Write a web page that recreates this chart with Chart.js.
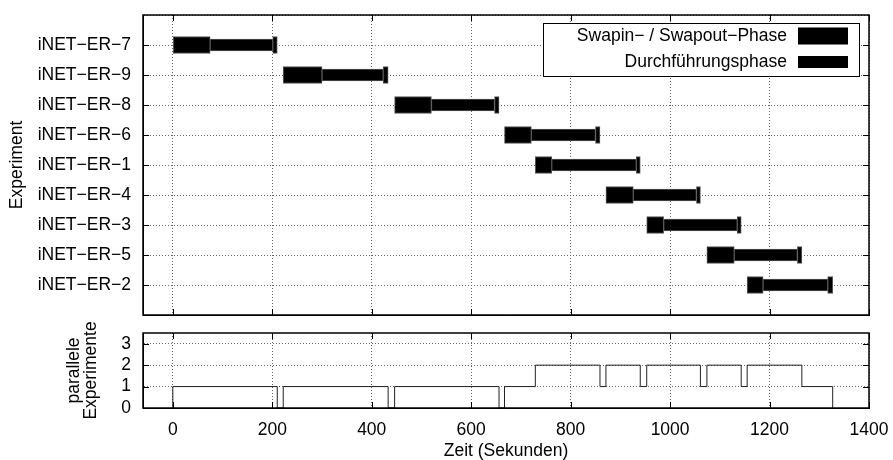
<!DOCTYPE html>
<html>
<head>
<meta charset="utf-8">
<script src="https://cdn.jsdelivr.net/npm/chart.js@4"></script>
<style>
  body { margin: 0; background: #fff; }
  #wrap { position: relative; width: 893px; height: 460px; }
  canvas { position: absolute; left: 0; }
  #top { top: 0; }
  #bottom { top: 320px; }
</style>
</head>
<body>
<div id="wrap">
  <canvas id="top" width="893" height="325"></canvas>
  <canvas id="bottom" width="893" height="140"></canvas>
</div>
<script>
// Experimente (von oben nach unten)
const categories = ['iNET−ER−7', 'iNET−ER−9', 'iNET−ER−8', 'iNET−ER−6', 'iNET−ER−1',
                    'iNET−ER−4', 'iNET−ER−3', 'iNET−ER−5', 'iNET−ER−2'];
// Zeitpunkte in Sekunden
const swapinStart  = [0, 222, 446, 667, 729, 871, 953, 1074, 1155];
const execStart    = [75, 300, 520, 721, 762, 926, 987, 1129, 1187];
const swapoutStart = [201, 423, 647, 850, 932, 1053, 1135, 1256, 1317];
const swapoutEnd   = [210, 433, 656, 859, 940, 1061, 1143, 1265, 1327];

// parallele Experimente (Treppenfunktion)
const stepTimes  = [0, 0, 210, 222, 433, 446, 656, 667, 729, 859, 871, 940, 953, 1061, 1074, 1143, 1155, 1265, 1327];
const stepCounts = [0, 1, 0, 1, 0, 1, 0, 1, 2, 1, 2, 1, 2, 1, 2, 1, 2, 1, 0];

const xTicks = [0, 200, 400, 600, 800, 1000, 1200, 1400];
const countTicks = [0, 1, 2, 3];

Chart.defaults.font.family = "'Liberation Sans', Arial, sans-serif";
Chart.defaults.font.size = 17.5;
Chart.defaults.color = '#000';

// Abstand Beschriftung <-> Achse ueber unsichtbare Tickmarken
const gridStyle = { color: '#666', lineWidth: 1, drawTicks: true, tickLength: 12, tickColor: 'rgba(0,0,0,0)' };
const dotted = { dash: [1, 2], color: '#000', width: 1 };
const tickFont = { size: 17.5, lineHeight: 1 };

// Rahmen + nach innen zeigende Ticks
const frame = {
  id: 'frame',
  afterDraw(chart) {
    const ctx = chart.ctx, a = chart.chartArea;
    const x = chart.scales.x, y = chart.scales.y;
    ctx.save();
    ctx.strokeStyle = '#000';
    ctx.lineWidth = 1;
    ctx.beginPath();
    x.ticks.forEach(t => {
      const px = Math.round(x.getPixelForValue(t.value)) + 0.5;
      ctx.moveTo(px, a.bottom); ctx.lineTo(px, a.bottom - 6);
      ctx.moveTo(px, a.top); ctx.lineTo(px, a.top + 6);
    });
    y.ticks.forEach(t => {
      if (t.label === '') return;
      const py = Math.round(y.getPixelForValue(t.value)) + 0.5;
      ctx.moveTo(a.left, py); ctx.lineTo(a.left + 6, py);
      ctx.moveTo(a.right, py); ctx.lineTo(a.right - 6, py);
    });
    ctx.stroke();
    ctx.lineWidth = 1.5;
    ctx.strokeRect(a.left, a.top, a.right - a.left, a.bottom - a.top);
    ctx.restore();
  }
};

// Legende innerhalb der Zeichenflaeche
const legendBox = {
  id: 'legendBox',
  afterDraw(chart) {
    const ctx = chart.ctx, a = chart.chartArea;
    const items = chart.data.datasets.filter(d => !d.hideInLegend);
    const right = a.right - 10, top = a.top + 8, w = 316, h = 53;
    ctx.save();
    ctx.fillStyle = '#fff';
    ctx.fillRect(right - w, top, w, h);
    ctx.strokeStyle = '#000';
    ctx.lineWidth = 1;
    ctx.strokeRect(right - w + 0.5, top + 0.5, w, h);
    ctx.font = "17.5px 'Liberation Sans', Arial, sans-serif";
    ctx.textAlign = 'right';
    ctx.textBaseline = 'middle';
    items.forEach((d, i) => {
      const cy = top + 13 + i * 26;
      ctx.fillStyle = '#000';
      ctx.fillText(d.label, right - 72, cy);
      ctx.fillStyle = d.backgroundColor;
      ctx.fillRect(right - 61, cy - d.barThickness / 2, 50, d.barThickness);
    });
    ctx.restore();
  }
};

const rows = (from, to) => categories.map((c, i) => ({ y: c, x: [from[i], to[i]] }));

new Chart(document.getElementById('top'), {
  type: 'bar',
  data: {
    labels: [''].concat(categories, ['']),
    datasets: [
      { label: 'Swapin− / Swapout−Phase', data: rows(swapinStart, execStart),
        backgroundColor: '#000', borderColor: '#555', borderWidth: 1, borderSkipped: false,
        barThickness: 17, grouped: false },
      { label: 'Durchführungsphase', data: rows(execStart, swapoutStart),
        backgroundColor: '#000', borderColor: '#555', borderWidth: 1, borderSkipped: false,
        barThickness: 12, grouped: false },
      { label: 'Swapin− / Swapout−Phase', hideInLegend: true, data: rows(swapoutStart, swapoutEnd),
        backgroundColor: '#000', borderColor: '#555', borderWidth: 1, borderSkipped: false,
        barThickness: 17, grouped: false }
    ]
  },
  options: {
    indexAxis: 'y',
    responsive: false,
    animation: false,
    layout: { padding: { top: 15, right: 24, bottom: 10, left: 0 } },
    plugins: { legend: { display: false }, tooltip: { enabled: false } },
    scales: {
      x: {
        type: 'linear', min: -60, max: 1400,
        afterBuildTicks: s => { s.ticks = xTicks.map(v => ({ value: v })); },
        afterFit: s => { s.height = 0; },
        ticks: { display: false },
        grid: Object.assign({}, gridStyle, { drawTicks: false }), border: dotted
      },
      y: {
        type: 'category', offset: false,
        afterFit: s => { s.width = 143; },
        ticks: { padding: 0, autoSkip: false, font: tickFont },
        grid: Object.assign({ offset: false }, gridStyle), border: dotted,
        title: { display: true, text: 'Experiment', font: { size: 17.5, lineHeight: 1 }, padding: { top: 8, bottom: 0 } }
      }
    }
  },
  plugins: [frame, legendBox]
});

new Chart(document.getElementById('bottom'), {
  type: 'line',
  data: {
    datasets: [{
      data: stepTimes.map((t, i) => ({ x: t, y: stepCounts[i] })),
      stepped: true, borderColor: '#222', borderWidth: 1, pointRadius: 0, fill: false
    }]
  },
  options: {
    responsive: false,
    animation: false,
    layout: { padding: { top: 13, right: 24, bottom: 0, left: 0 } },
    plugins: { legend: { display: false }, tooltip: { enabled: false } },
    scales: {
      x: {
        type: 'linear', min: -60, max: 1400,
        afterBuildTicks: s => { s.ticks = xTicks.map(v => ({ value: v })); },
        afterFit: s => { s.height = 52; },
        ticks: { padding: 0, maxRotation: 0, autoSkip: false, font: tickFont, callback: v => String(v) },
        grid: Object.assign({}, gridStyle, { tickLength: 13 }), border: dotted,
        title: { display: true, text: 'Zeit (Sekunden)', font: { size: 17.5, lineHeight: 1 }, padding: { top: 0, bottom: 0 } }
      },
      y: {
        type: 'linear', min: 0, max: 3.5,
        afterBuildTicks: s => { s.ticks = countTicks.map(v => ({ value: v })); },
        afterFit: s => { s.width = 143; },
        ticks: { padding: 0, autoSkip: false, font: tickFont },
        grid: gridStyle, border: dotted,
        title: { display: true, text: ['parallele', 'Experimente'], font: { size: 17.5, lineHeight: 1 }, padding: { top: 65, bottom: 0 } }
      }
    }
  },
  plugins: [frame]
});
</script>
</body>
</html>
